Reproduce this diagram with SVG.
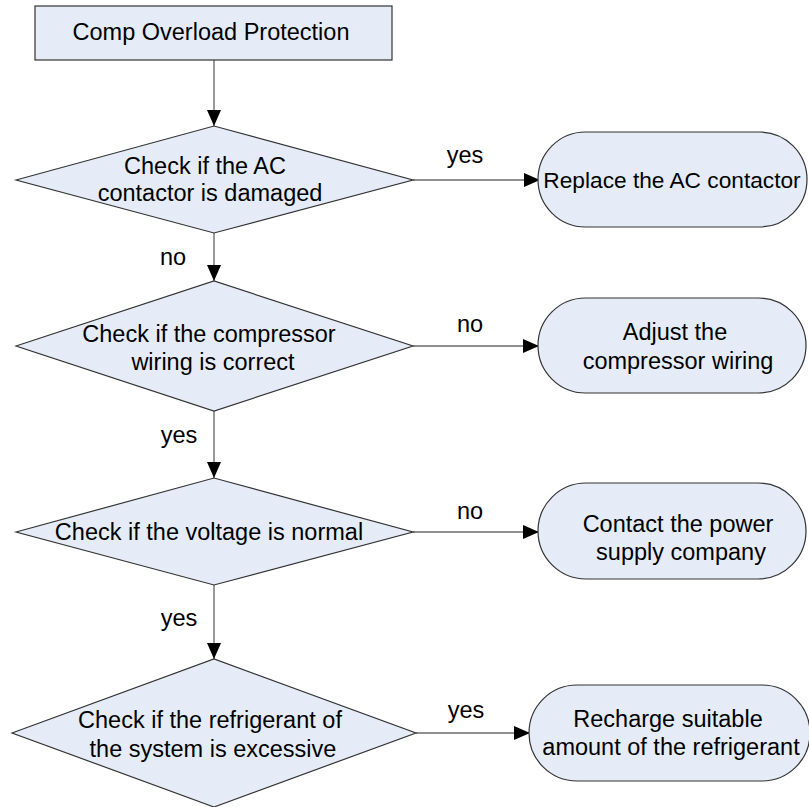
<svg xmlns="http://www.w3.org/2000/svg" width="809" height="807" viewBox="0 0 809 807">
<style>
.shape{fill:#E5ECF7;stroke:#333;stroke-width:1.2}
text{font-family:"Liberation Sans",Arial,sans-serif;font-size:23.5px;fill:#000;text-anchor:middle}
.v{stroke:#777;stroke-width:1.5;fill:none}
.h{stroke:#222;stroke-width:1.2;fill:none}
</style>
<defs>
<marker id="ah" markerWidth="16" markerHeight="14" refX="16" refY="7" orient="auto" markerUnits="userSpaceOnUse">
<path d="M0,0 L16,7 L0,14 Z" fill="#000"/>
</marker>
</defs>
<rect width="809" height="807" fill="#fff"/>
<g id="connectors">
<line class="v" x1="214" y1="60" x2="214" y2="126" marker-end="url(#ah)"/>
<line class="v" x1="214" y1="233" x2="214" y2="281" marker-end="url(#ah)"/>
<line class="v" x1="214" y1="411" x2="214" y2="478" marker-end="url(#ah)"/>
<line class="v" x1="214" y1="585" x2="214" y2="659" marker-end="url(#ah)"/>
<line class="h" x1="413" y1="180" x2="540" y2="180" marker-end="url(#ah)"/>
<line class="h" x1="413" y1="346" x2="539" y2="346" marker-end="url(#ah)"/>
<line class="h" x1="413" y1="532" x2="539" y2="532" marker-end="url(#ah)"/>
<line class="h" x1="416" y1="733" x2="530" y2="733" marker-end="url(#ah)"/>
<text x="465" y="163">yes</text>
<text x="173" y="265">no</text>
<text x="470" y="332">no</text>
<text x="179" y="443">yes</text>
<text x="470" y="519">no</text>
<text x="179" y="626">yes</text>
<text x="466" y="718">yes</text>
</g>
<g id="start">
<rect class="shape" x="35" y="6" width="357" height="54"/>
<text x="211" y="40">Comp Overload Protection</text>
</g>
<g id="check-contactor">
<polygon class="shape" points="16,180 214,126 413,180 214,233"/>
<text x="205" y="174">Check if the AC</text>
<text x="210" y="201">contactor is damaged</text>
</g>
<g id="replace-contactor">
<rect class="shape" x="538" y="132" width="269" height="95" rx="47.5" ry="47.5"/>
<text x="672" y="188" style="font-size:22.7px">Replace the AC contactor</text>
</g>
<g id="check-wiring">
<polygon class="shape" points="16,346 214,281 413,346 214,411"/>
<text x="209" y="342">Check if the compressor</text>
<text x="213" y="370">wiring is correct</text>
</g>
<g id="adjust-wiring">
<rect class="shape" x="538" y="298" width="268" height="95" rx="47.5" ry="47.5"/>
<text x="675" y="340">Adjust the</text>
<text x="678" y="369">compressor wiring</text>
</g>
<g id="check-voltage">
<polygon class="shape" points="16,532 214,478 413,532 214,585"/>
<text x="209" y="540">Check if the voltage is normal</text>
</g>
<g id="contact-power">
<rect class="shape" x="538" y="483" width="268" height="96" rx="48" ry="48"/>
<text x="678" y="532">Contact the power</text>
<text x="681" y="560">supply company</text>
</g>
<g id="check-refrigerant">
<polygon class="shape" points="12,733 214,659 416,733 214,807"/>
<text x="210" y="728">Check if the refrigerant of</text>
<text x="213" y="757">the system is excessive</text>
</g>
<g id="recharge">
<rect class="shape" x="529" y="685" width="281" height="96" rx="48" ry="48"/>
<text x="668" y="727">Recharge suitable</text>
<text x="671" y="755">amount of the refrigerant</text>
</g>
</svg>
